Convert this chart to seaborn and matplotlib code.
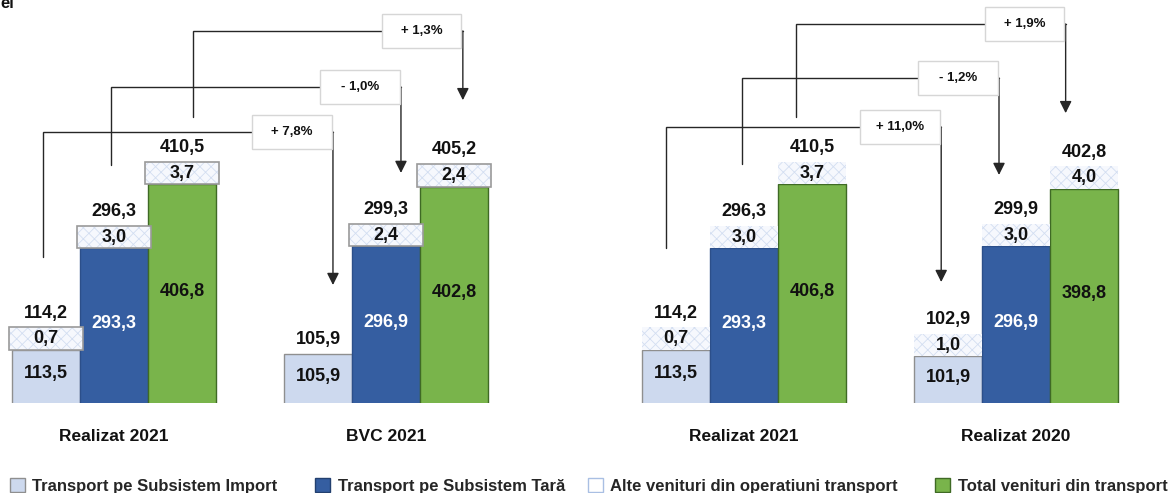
import numpy as np
import pandas as pd
import matplotlib
matplotlib.use("Agg")
import matplotlib.pyplot as plt
from matplotlib.patches import Rectangle, Patch
from matplotlib.transforms import blended_transform_factory
import seaborn as sns

# ---------------- data ----------------
series_import = "Transport pe Subsistem Import"
series_tara = "Transport pe Subsistem Tară"
series_alte = "Alte venituri din operatiuni transport"
series_total = "Total venituri din transport"

left_categories = ["Realizat 2021", "BVC 2021"]
left_import = [113.5, 105.9]
left_tara = [293.3, 296.9]
left_total = [406.8, 402.8]
left_alte_import = [0.7, 0.0]
left_alte_tara = [3.0, 2.4]
left_alte_total = [3.7, 2.4]
left_changes = ["+ 7,8%", "- 1,0%", "+ 1,3%"]

right_categories = ["Realizat 2021", "Realizat 2020"]
right_import = [113.5, 101.9]
right_tara = [293.3, 296.9]
right_total = [406.8, 398.8]
right_alte_import = [0.7, 1.0]
right_alte_tara = [3.0, 3.0]
right_alte_total = [3.7, 4.0]
right_changes = ["+ 11,0%", "- 1,2%", "+ 1,9%"]

# ---------------- style ----------------
sns.set_style("white")
plt.rcParams["font.family"] = ["Liberation Sans", "DejaVu Sans"]
plt.rcParams["font.weight"] = "bold"
plt.rcParams["hatch.linewidth"] = 0.6

C_IMPORT = "#cdd9ee"
C_TARA = "#355ea1"
C_TOTAL = "#79b44b"
C_ALTE = "#f6f8fd"
C_HATCH = "#d3def1"
EDGE = {series_import: "#8f8f8f", series_tara: "#2c4f8a", series_total: "#3f6a25"}
LINE = "#262626"

W, H = 1168, 493
Y0, Y1 = 20, 733.6          # value range shown on the vertical axis
BOX_H = 40                  # drawn height of the "alte" label box
GROUP_STEP = 4
XMIN = -0.6765
PX_PER_UNIT = 68

fig = plt.figure(figsize=(W / 100, H / 100), dpi=100)
ax_bottom = (H - 402.5) / H
ax_h = 402.5 / H
axL = fig.add_axes([0, ax_bottom, 560 / W, ax_h])
axR = fig.add_axes([630 / W, ax_bottom, 538 / W, ax_h])


def fmt(v):
    return f"{v:.1f}".replace(".", ",")


def draw_panel(ax, cats, imp, tara, tot, a_imp, a_tara, a_tot, changes, brackets,
               framed, width_px):
    order = [series_import, series_tara, series_total]
    rows = []
    for g in range(len(cats)):
        for k, (name, vals) in enumerate(zip(order, (imp, tara, tot))):
            rows.append(dict(pos=g * GROUP_STEP + k, value=vals[g], series=name))
    df = pd.DataFrame(rows)
    sns.barplot(data=df, x="pos", y="value", hue="series", hue_order=order,
                palette=[C_IMPORT, C_TARA, C_TOTAL], native_scale=True,
                dodge=False, width=1.0, saturation=1, errorbar=None,
                legend=False, ax=ax)
    for cont, name in zip(ax.containers, order):
        for b in cont:
            b.set_edgecolor(EDGE[name])
            b.set_linewidth(1.0)

    text_col = {series_import: "#111111", series_tara: "white", series_total: "#111111"}
    alte = {series_import: a_imp, series_tara: a_tara, series_total: a_tot}
    box_w = 1.1 if framed else 1.0
    for g in range(len(cats)):
        for k, (name, vals) in enumerate(zip(order, (imp, tara, tot))):
            x = g * GROUP_STEP + k
            v = vals[g]
            ax.text(x, (Y0 + v) / 2 + 4, fmt(v), ha="center", va="center",
                    fontsize=13, fontweight="bold", color=text_col[name])
            av = alte[name][g]
            top = v
            if av > 0:
                ax.bar(x, BOX_H, bottom=v, width=box_w, color=C_ALTE, hatch="xxx",
                       edgecolor=C_HATCH, linewidth=0, zorder=3)
                if framed:
                    ax.bar(x, BOX_H, bottom=v, width=box_w, fill=False,
                           edgecolor="#9a9a9a", linewidth=1.2, zorder=4)
                ax.text(x, v + BOX_H / 2, fmt(av), ha="center", va="center",
                        fontsize=13, fontweight="bold", color="#111111", zorder=5)
                top = v + BOX_H
            ax.annotate(fmt(v + av), xy=(x, top), xytext=(0, 4),
                        textcoords="offset points", ha="center", va="bottom",
                        fontsize=13, fontweight="bold", color="#111111")

    trans = blended_transform_factory(ax.transData, ax.transAxes)
    for g, c in enumerate(cats):
        ax.text(g * GROUP_STEP + 1, -0.0857, c, transform=trans, ha="center",
                va="center", fontsize=12.5, fontweight="bold", color="#111111")

    # change brackets
    bw, bh = 1.17, 60
    for (xl, yb, yh, xr, tip), lab in zip(brackets, changes):
        ax.plot([xl, xl, xr], [yb, yh, yh], color=LINE, lw=1.0,
                solid_joinstyle="miter", zorder=2)
        ax.annotate("", xy=(xr, tip), xytext=(xr, yh),
                    arrowprops=dict(arrowstyle="-|>", color=LINE, lw=1.0,
                                    mutation_scale=18, shrinkA=0, shrinkB=0),
                    zorder=2)
        bx = xr - 0.02 - bw
        ax.add_patch(Rectangle((bx, yh - bh / 2), bw, bh, facecolor="white",
                               edgecolor="#d6d6d6", lw=1.0, zorder=6))
        ax.text(bx + bw / 2, yh, lab, ha="center", va="center", fontsize=9.5,
                fontweight="bold", color="#111111", zorder=7)

    ax.set_xlim(XMIN, XMIN + width_px / PX_PER_UNIT)
    ax.set_ylim(Y0, Y1)
    ax.axis("off")


left_brackets = [
    (-0.04, 278, 499.6, 4.22, 228.3),
    (0.956, 441, 579.4, 5.22, 427),
    (2.16, 526, 678.7, 6.13, 556),
]
right_brackets = [
    (-0.147, 294, 508.5, 3.90, 233.6),
    (0.97, 443, 595.3, 4.75, 423.4),
    (1.765, 526, 691, 5.73, 533),
]

draw_panel(axL, left_categories, left_import, left_tara, left_total,
           left_alte_import, left_alte_tara, left_alte_total, left_changes,
           left_brackets, True, 560)
draw_panel(axR, right_categories, right_import, right_tara, right_total,
           right_alte_import, right_alte_tara, right_alte_total, right_changes,
           right_brackets, False, 538)

# legend (four entries on one row)
handles = [
    Patch(facecolor=C_IMPORT, edgecolor="#8f8f8f", lw=1.0),
    Patch(facecolor=C_TARA, edgecolor="#23406f", lw=1.0),
    Patch(facecolor="white", edgecolor="#a9bfe3", lw=1.0),
    Patch(facecolor=C_TOTAL, edgecolor="#3f6a25", lw=1.0),
]
names = [series_import, series_tara, series_alte, series_total]
x_px = [10, 315, 588, 935]
for h, n, xp in zip(handles, names, x_px):
    fig.legend([h], [n], loc="center left", bbox_to_anchor=(xp / W, (H - 486) / H),
               frameon=False, borderpad=0, borderaxespad=0, handlelength=0.9,
               handleheight=0.9, handletextpad=0.45,
               prop=dict(weight="bold", size=12))

fig.text(0.0, (H - 8) / H, "el", ha="left", va="baseline", fontsize=12,
         fontweight="bold", color="#111111")

fig.savefig("out.png", dpi=100)
